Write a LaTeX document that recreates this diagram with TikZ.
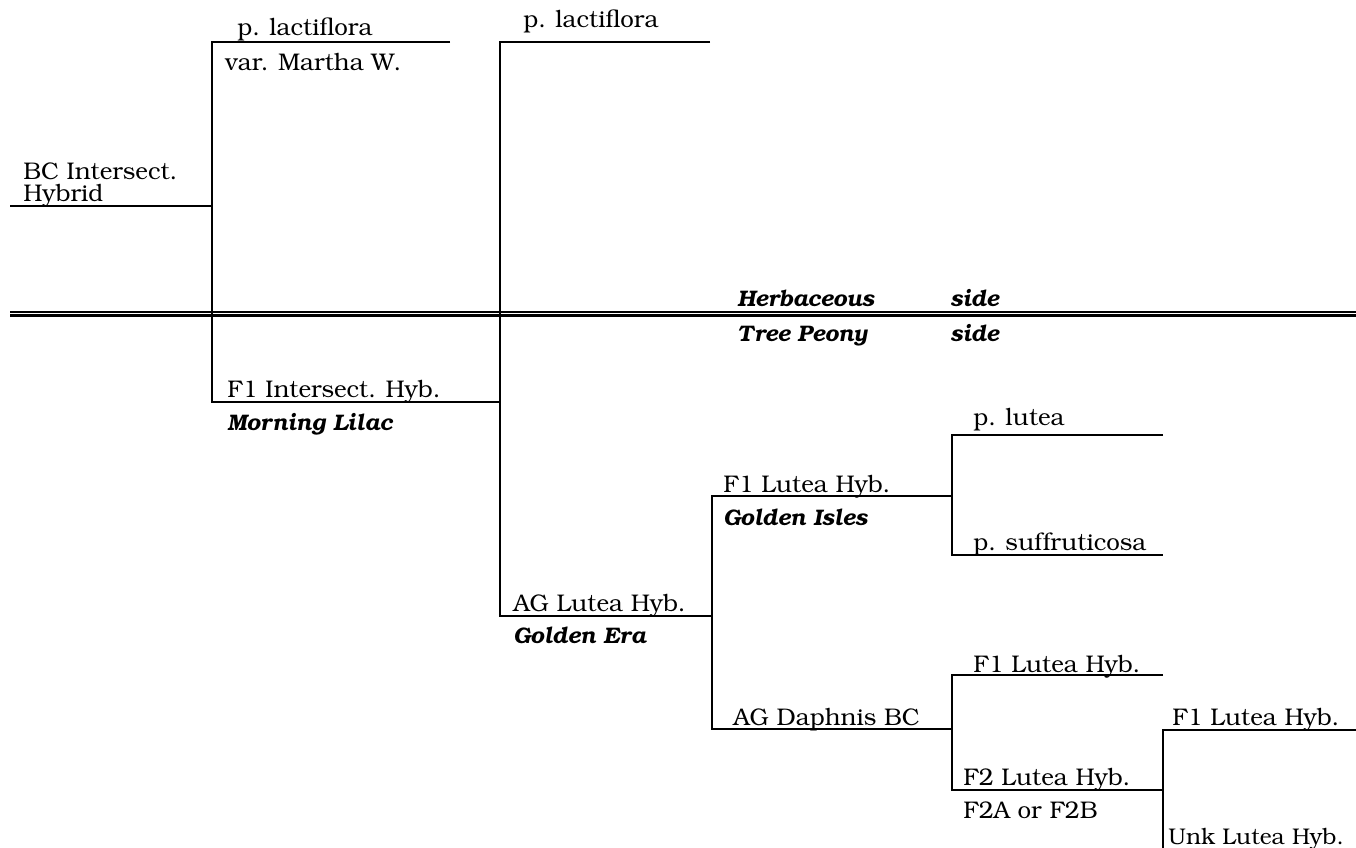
\documentclass[tikz,border=0pt]{standalone}
\usepackage[T1]{fontenc}
\usepackage{bookman}
\begin{document}
\begin{tikzpicture}[x=0.02cm, y=-0.02cm,
			branch/.style={line width=1.5pt},
			divide/.style={line width=1.3pt},
			lbl/.style={anchor=base west, inner sep=0pt, font=\fontsize{13.7}{16}\selectfont},
			cultivar/.style={lbl, font=\fontsize{12.8}{15}\selectfont\bfseries\itshape}]
	\useasboundingbox (0,0) rectangle (1356,848);
	\clip (0,0) rectangle (1356,848);
	\coordinate (bc) at (10,206);
	\coordinate (mw) at (212,42);
	\coordinate (mwe) at (450,42);
	\coordinate (ml) at (212,402);
	\coordinate (la) at (500,42);
	\coordinate (lae) at (710,42);
	\coordinate (ge) at (500,616);
	\coordinate (gi) at (712,496);
	\coordinate (dp) at (712,729);
	\coordinate (lu) at (952,435);
	\coordinate (lue) at (1163,435);
	\coordinate (su) at (952,555);
	\coordinate (sue) at (1163,555);
	\coordinate (fa) at (952,675);
	\coordinate (fae) at (1163,675);
	\coordinate (fb) at (952,790);
	\coordinate (fc) at (1163,730);
	\coordinate (fce) at (1356,730);
	\coordinate (uk) at (1163,852);
	\coordinate (hl) at (10,312.2);
	\coordinate (tl) at (10,315.6);
	\draw[branch] (bc) -- (bc -| mw);
	\draw[branch] (mwe) -- (mw) -- (ml) -- (ml -| la);
	\draw[branch] (lae) -- (la) -- (ge) -- (ge -| gi);
	\draw[branch] (gi -| lu) -- (gi) -- (dp) -- (dp -| fa);
	\draw[branch] (lue) -- (lu) -- (su) -- (sue);
	\draw[branch] (fae) -- (fa) -- (fb) -- (fb -| fc);
	\draw[branch] (fce) -- (fc) -- (uk) -- (uk -| fce);
	\draw[divide] (hl) -- (hl -| fce);
	\draw[divide] (tl) -- (tl -| fce);
	\node[lbl] (pl1) at (237,36) {p. lactiflora};
	\node[lbl] (mwt) at (225,71) {var. Martha W.};
	\node[lbl] (bc1) at (23,179) {BC Intersect.};
	\node[lbl] (bc2) at (23,201) {Hybrid};
	\node[lbl] (pl2) at (523,28) {p. lactiflora};
	\node[lbl] (f1i) at (227,397) {F1 Intersect. Hyb.};
	\node[cultivar] (mlc) at (227,430) {Morning Lilac};
	\node[cultivar] (hb) at (737,306) {Herbaceous};
	\node[cultivar] (hbs) at (950,306) {side};
	\node[cultivar] (tp) at (737,341) {Tree Peony};
	\node[cultivar] (tps) at (950,341) {side};
	\node[lbl] (plu) at (973,425) {p. lutea};
	\node[lbl] (f1a) at (723,492) {F1 Lutea Hyb.};
	\node[cultivar] (gis) at (723,525) {Golden Isles};
	\node[lbl] (psu) at (973,550) {p. suffruticosa};
	\node[lbl] (agl) at (513,611) {AG Lutea Hyb.};
	\node[cultivar] (ger) at (513,643) {Golden Era};
	\node[lbl] (f1b) at (973,672) {F1 Lutea Hyb.};
	\node[lbl] (agd) at (733,725) {AG Daphnis BC};
	\node[lbl] (f1c) at (1172,725) {F1 Lutea Hyb.};
	\node[lbl] (f2l) at (963,785) {F2 Lutea Hyb.};
	\node[lbl] (f2x) at (963,818) {F2A or F2B};
	\node[lbl, font=\fontsize{12.9}{15}\selectfont] (unk) at (1168,844) {Unk Lutea Hyb.};
\end{tikzpicture}
\end{document}
